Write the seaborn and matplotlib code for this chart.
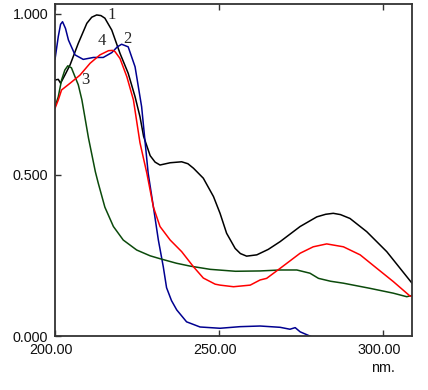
import pandas as pd
import matplotlib
matplotlib.use("Agg")
import matplotlib.pyplot as plt
import matplotlib.transforms as mtransforms
import seaborn as sns

# spectrum 1 (black)
wl_1 = [200.0, 201.0, 201.7, 203.0, 204.6, 207.1, 209.7, 211.2, 212.7, 214.0, 215.2, 217.3,
        219.8, 222.3, 224.4, 225.9, 227.0, 229.0, 230.5, 232.0, 235.1, 238.6, 240.5, 242.2,
        245.2, 248.3, 250.3, 252.3, 254.9, 256.5, 258.4, 261.5, 265.0, 268.6, 274.7, 279.8,
        282.5, 284.8, 287.0, 289.9, 295.0, 301.1, 308.8]
abs_1 = [0.795, 0.797, 0.785, 0.81, 0.842, 0.909, 0.971, 0.99, 0.997, 0.995, 0.987, 0.95,
         0.878, 0.816, 0.743, 0.681, 0.62, 0.56, 0.54, 0.531, 0.538, 0.541, 0.535, 0.521,
         0.49, 0.433, 0.381, 0.319, 0.272, 0.256, 0.248, 0.252, 0.269, 0.293, 0.34, 0.37,
         0.378, 0.381, 0.377, 0.365, 0.324, 0.262, 0.164]

# spectrum 2 (blue)
wl_2 = [200.0, 201.0, 201.7, 202.3, 203.2, 204.1, 206.1, 208.6, 211.7, 214.7, 217.3, 219.0,
        220.3, 222.3, 224.4, 226.4, 228.4, 230.0, 231.5, 233.0, 234.0, 235.5, 237.1, 240.1,
        244.2, 250.3, 256.4, 262.5, 268.6, 271.6, 273.2, 274.7, 277.2, 280.0]
abs_2 = [0.859, 0.93, 0.968, 0.976, 0.955, 0.919, 0.873, 0.859, 0.865, 0.865, 0.88, 0.898,
         0.906, 0.898, 0.836, 0.712, 0.505, 0.40, 0.298, 0.215, 0.15, 0.11, 0.081, 0.044,
         0.028, 0.024, 0.029, 0.031, 0.027, 0.021, 0.026, 0.013, 0.002, -0.01]

# spectrum 3 (green)
wl_3 = [200.0, 201.0, 202.0, 203.0, 203.9, 205.0, 206.1, 207.1, 208.2, 209.1, 210.2, 211.4,
        212.3, 213.2, 215.2, 217.8, 220.8, 224.9, 229.0, 232.0, 237.0, 241.2, 247.3, 255.0,
        262.5, 268.6, 273.7, 277.7, 280.3, 284.0, 287.9, 296.0, 303.1, 307.2, 308.8]
abs_3 = [0.712, 0.743, 0.795, 0.826, 0.839, 0.833, 0.805, 0.78, 0.733, 0.68, 0.615, 0.555,
         0.51, 0.474, 0.40, 0.34, 0.298, 0.267, 0.249, 0.240, 0.226, 0.217, 0.207, 0.201,
         0.202, 0.205, 0.205, 0.195, 0.179, 0.17, 0.164, 0.148, 0.133, 0.122, 0.126]

# spectrum 4 (red)
wl_4 = [200.0, 201.0, 202.0, 204.6, 207.6, 210.7, 213.7, 216.3, 217.5, 218.3, 219.8, 221.9,
        223.9, 225.9, 228.0, 230.0, 232.0, 235.1, 238.6, 242.2, 245.2, 248.8, 250.3, 254.4,
        259.5, 262.5, 264.5, 268.6, 274.7, 278.7, 282.8, 287.9, 293.0, 298.1, 303.1, 308.2,
        308.8]
abs_4 = [0.707, 0.733, 0.764, 0.785, 0.81, 0.847, 0.873, 0.886, 0.887, 0.883, 0.862, 0.805,
         0.733, 0.6, 0.505, 0.40, 0.34, 0.298, 0.262, 0.215, 0.18, 0.161, 0.158, 0.153,
         0.158, 0.174, 0.179, 0.21, 0.257, 0.277, 0.286, 0.277, 0.252, 0.21, 0.169, 0.124,
         0.124]

curve_names = ["1", "2", "3", "4"]
curve_colors = ["#000000", "#000090", "#0b4a0b", "#ff0000"]

# label positions for curve numbers
label_x = [217.4, 222.0, 209.1, 214.3]
label_y = [0.997, 0.922, 0.795, 0.916]

x_ticks = [200, 250, 300]
x_ticklabels = ["200.00", "250.00", "300.00"]
y_ticks = [0.0, 0.5, 1.0]
y_ticklabels = ["0.000", "0.500", "1.000"]

sns.set_style("ticks")
plt.rcParams["font.family"] = ["Liberation Sans", "DejaVu Sans"]

fig = plt.figure(figsize=(4.28, 3.90), dpi=100)
ax = fig.add_axes([55 / 428, 54 / 390, 357 / 428, 332 / 390])

all_wl = [wl_1, wl_2, wl_3, wl_4]
all_abs = [abs_1, abs_2, abs_3, abs_4]
for name, wl, ab, col in zip(curve_names, all_wl, all_abs, curve_colors):
    df = pd.DataFrame({"wl": wl, "abs": ab})
    sns.lineplot(data=df, x="wl", y="abs", ax=ax, color=col, linewidth=1.1, sort=False)

for name, lx, ly in zip(curve_names, label_x, label_y):
    ax.text(lx, ly, name, family=["Liberation Serif", "DejaVu Serif"], fontsize=12,
            ha="center", va="center")

ax.set_xlim(200, 308.8)
ax.set_ylim(0, 1.031)
ax.set_xticks(x_ticks)
ax.set_xticklabels(x_ticklabels)
ax.set_yticks(y_ticks)
ax.set_yticklabels(y_ticklabels)
ax.set_xlabel("")
ax.set_ylabel("")

ax.tick_params(axis="both", direction="in", length=4, width=1, color="#333333",
               labelsize=10.4, labelcolor="#111111")
ax.tick_params(axis="x", top=True, pad=5)
ax.tick_params(axis="y", pad=5)

shift = mtransforms.ScaledTranslation(-4 / 100, 0, fig.dpi_scale_trans)
for lab in ax.get_xticklabels():
    lab.set_transform(lab.get_transform() + shift)

for side in ["left", "bottom", "top", "right"]:
    ax.spines[side].set_visible(True)
    ax.spines[side].set_color("#333333")
    ax.spines[side].set_linewidth(1.3)

ax.text(383 / 428, 22 / 390, "nm.", transform=fig.transFigure, fontsize=10.4,
        ha="center", va="center", color="#111111")

fig.savefig("out.png", dpi=100)
